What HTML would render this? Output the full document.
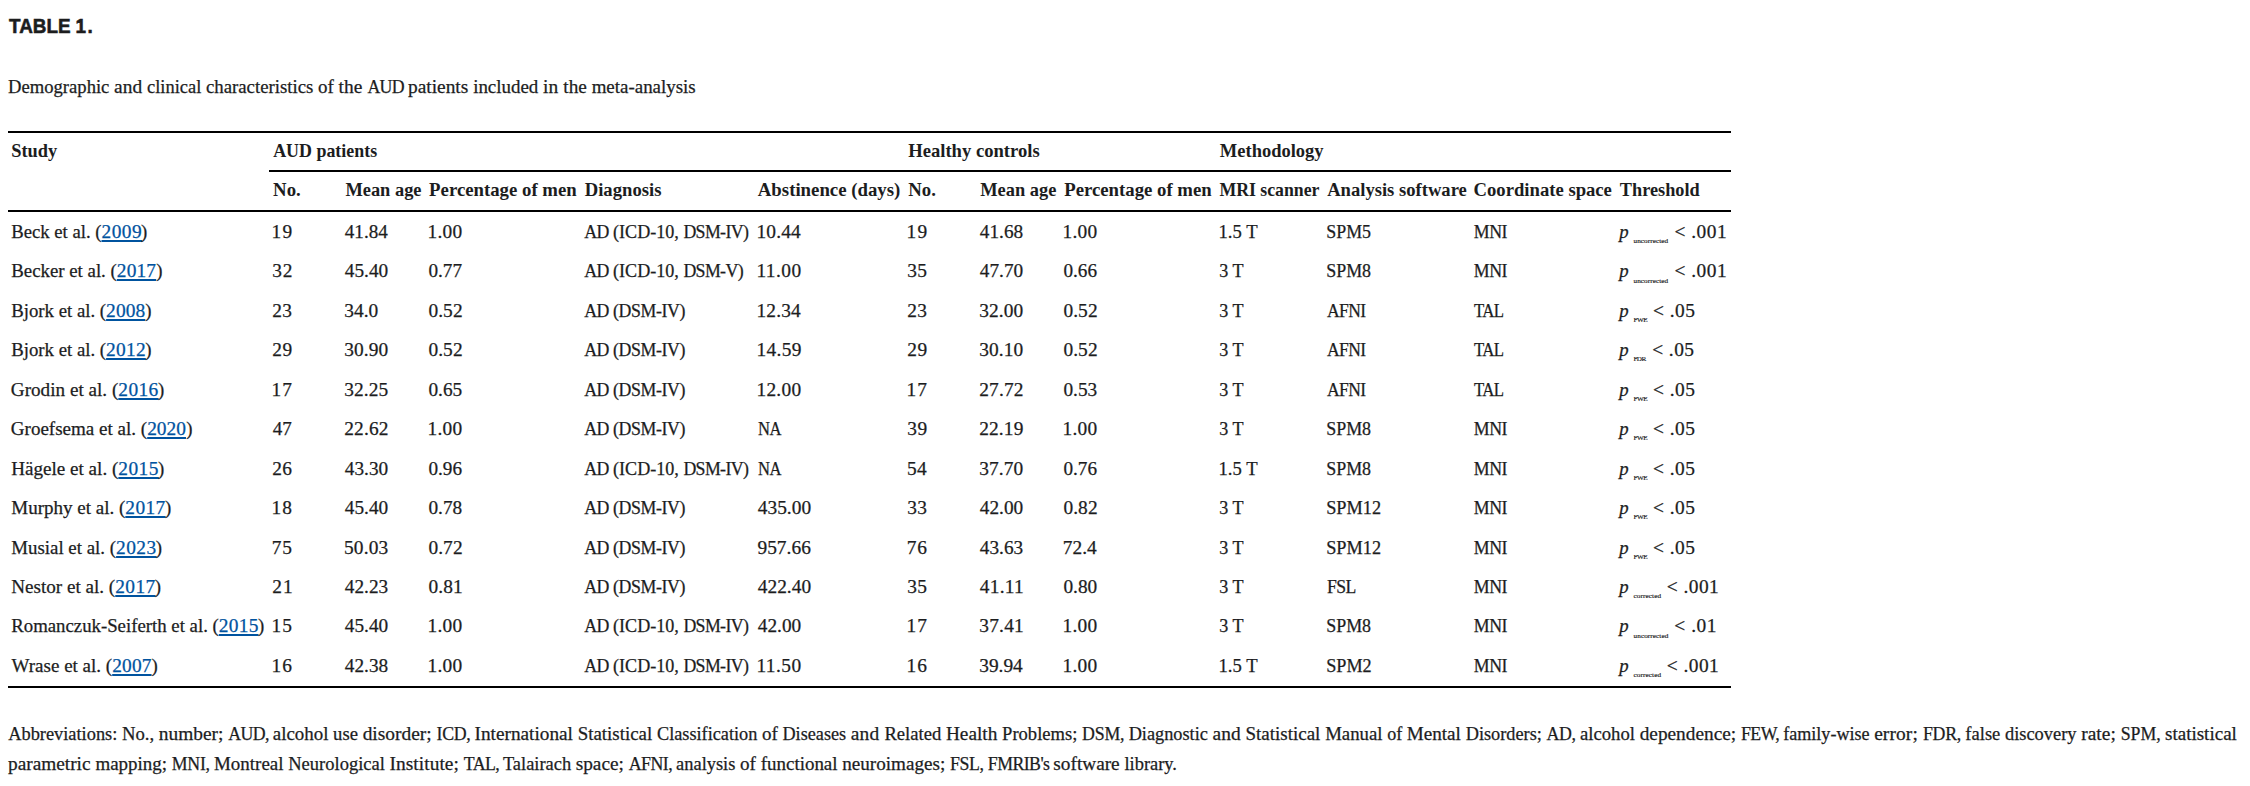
<!DOCTYPE html>
<html lang="en">
<head>
<meta charset="utf-8">
<title>TABLE 1.</title>
<style>
html,body{margin:0;padding:0;background:#fff;}
body{width:2250px;height:786px;position:relative;overflow:hidden;color:#1c1d1e;
 font-family:"Liberation Serif","DejaVu Serif",serif;font-size:18.5px;}
.t{position:absolute;white-space:nowrap;line-height:20px;height:20px;transform-origin:0 0;-webkit-text-stroke:0.25px currentColor;}
.l span,.l a{line-height:0;}
.s{-webkit-text-stroke:0.18px currentColor;}
.b{font-weight:bold;-webkit-text-stroke:0;}
.i{font-style:italic;}
.ttl{font-family:"Liberation Sans","DejaVu Sans",sans-serif;font-weight:bold;-webkit-text-stroke:0.6px currentColor;}
.ln{position:absolute;background:#000;height:2px;}
a{color:#00539f;text-decoration:underline;text-decoration-thickness:2px;text-underline-offset:2px;text-decoration-skip-ink:none;}
</style>
</head>
<body>
<div class="ln" style="left:8px;top:131px;width:1723px"></div>
<div class="ln" style="left:269px;top:170px;width:1462px"></div>
<div class="ln" style="left:8px;top:210px;width:1723px"></div>
<div class="ln" style="left:8px;top:686px;width:1723px"></div>
<div class="t ttl" id="ttl" style="left:8.71px;top:15.60px;font-size:21.0px;word-spacing:-0.30px;transform:scaleX(0.8985);">TABLE <span style="letter-spacing:1.7px">1</span>.</div>
<div class="t l" id="cap" style="left:8.03px;top:77.10px;"><span style="font-size:18.64px;">Demographic </span><span style="font-size:19.40px;letter-spacing:0.035px;">and </span><span style="font-size:18.45px;">clinical </span><span style="font-size:18.80px;">characteristics </span><span style="font-size:18.98px;">of </span><span style="font-size:19.40px;letter-spacing:0.062px;">the </span><span style="font-size:17.80px;letter-spacing:-0.600px;">AUD </span><span style="font-size:19.40px;">patients </span><span style="font-size:18.93px;">included </span><span style="font-size:19.40px;letter-spacing:0.111px;">in </span><span style="font-size:19.25px;">the </span><span style="font-size:18.94px;">meta-analysis</span></div>
<div class="t b" id="h1_0" style="left:11.18px;top:140.90px;font-size:18.40px;">Study</div>
<div class="t b" id="h1_1" style="left:273.20px;top:140.90px;font-size:17.92px;">AUD patients</div>
<div class="t b" id="h1_2" style="left:908.21px;top:140.90px;font-size:18.62px;">Healthy controls</div>
<div class="t b" id="h1_3" style="left:1219.82px;top:140.90px;font-size:18.50px;">Methodology</div>
<div class="t b" id="h2_0" style="left:273.11px;top:179.90px;font-size:18.77px;">No.</div>
<div class="t b" id="h2_1" style="left:345.42px;top:179.90px;font-size:18.40px;">Mean age</div>
<div class="t b" id="h2_2" style="left:429.11px;top:179.90px;font-size:18.77px;">Percentage of men</div>
<div class="t b" id="h2_3" style="left:584.71px;top:179.90px;font-size:18.66px;">Diagnosis</div>
<div class="t b" id="h2_4" style="left:757.80px;top:179.90px;font-size:18.81px;">Abstinence (days)</div>
<div class="t b" id="h2_5" style="left:908.21px;top:179.90px;font-size:18.77px;">No.</div>
<div class="t b" id="h2_6" style="left:980.22px;top:179.90px;font-size:18.42px;">Mean age</div>
<div class="t b" id="h2_7" style="left:1064.21px;top:179.90px;font-size:18.75px;">Percentage of men</div>
<div class="t b" id="h2_8" style="left:1219.52px;top:179.90px;font-size:17.80px;letter-spacing:-0.034px;">MRI scanner</div>
<div class="t b" id="h2_9" style="left:1327.20px;top:179.90px;font-size:18.60px;">Analysis software</div>
<div class="t b" id="h2_10" style="left:1473.55px;top:179.90px;font-size:18.67px;">Coordinate space</div>
<div class="t b" id="h2_11" style="left:1619.82px;top:179.90px;font-size:18.30px;">Threshold</div>
<div class="t l" id="r0_c0" style="left:11.23px;top:221.90px;"><span style="font-size:18.69px;">Beck et al. (</span><a style="font-size:19.40px;letter-spacing:0.484px;">2009</a><span style="font-size:18.8px;margin-left:-1.11px">)</span></div>
<div class="t" id="r0_c1" style="left:271.45px;top:221.90px;font-size:19.40px;letter-spacing:1.428px;">19</div>
<div class="t" id="r0_c2" style="left:344.81px;top:221.90px;font-size:19.10px;">41.84</div>
<div class="t" id="r0_c3" style="left:427.45px;top:221.90px;font-size:19.40px;letter-spacing:0.278px;">1.00</div>
<div class="t l" id="r0_c4" style="left:584.20px;top:221.90px;"><span style="font-size:17.80px;letter-spacing:-0.434px;">AD </span><span style="font-size:18.10px;">(ICD-10, </span><span style="font-size:17.80px;letter-spacing:-0.599px;">DSM-IV)</span></div>
<div class="t" id="r0_c5" style="left:756.45px;top:221.90px;font-size:19.40px;letter-spacing:0.174px;">10.44</div>
<div class="t" id="r0_c6" style="left:906.45px;top:221.90px;font-size:19.40px;letter-spacing:1.428px;">19</div>
<div class="t" id="r0_c7" style="left:979.81px;top:221.90px;font-size:19.28px;">41.68</div>
<div class="t" id="r0_c8" style="left:1062.45px;top:221.90px;font-size:19.40px;letter-spacing:0.278px;">1.00</div>
<div class="t" id="r0_c9" style="left:1218.51px;top:221.90px;font-size:18.66px;">1.5 T</div>
<div class="t" id="r0_c10" style="left:1326.23px;top:221.90px;font-size:17.91px;">SPM5</div>
<div class="t" id="r0_c11" style="left:1473.84px;top:221.90px;font-size:17.80px;letter-spacing:-0.433px;">MNI</div>
<div class="t i" id="r0_p" style="left:1619.13px;top:221.90px;font-size:18.80px;">p</div>
<div class="t s" id="r0_sub" style="left:1633.53px;top:232.10px;font-size:7.20px;letter-spacing:0.077px;transform:scale(1.0000,0.900);">uncorrected</div>
<div class="t" id="r0_rest" style="left:1674.52px;top:221.90px;font-size:19.40px;letter-spacing:0.480px;">&lt; .001</div>
<div class="t l" id="r1_c0" style="left:11.22px;top:261.35px;"><span style="font-size:18.83px;">Becker et al. (</span><a style="font-size:19.40px;letter-spacing:0.155px;">2017</a><span style="font-size:18.8px;margin-left:0.11px">)</span></div>
<div class="t" id="r1_c1" style="left:272.22px;top:261.35px;font-size:19.40px;letter-spacing:0.846px;">32</div>
<div class="t" id="r1_c2" style="left:344.81px;top:261.35px;font-size:19.28px;">45.40</div>
<div class="t" id="r1_c3" style="left:428.42px;top:261.35px;font-size:19.21px;">0.77</div>
<div class="t l" id="r1_c4" style="left:584.20px;top:261.35px;"><span style="font-size:17.80px;letter-spacing:-0.434px;">AD </span><span style="font-size:18.10px;">(ICD-10, </span><span style="font-size:17.80px;letter-spacing:-0.600px;">DSM-V)</span></div>
<div class="t" id="r1_c5" style="left:756.45px;top:261.35px;font-size:19.40px;letter-spacing:0.451px;">11.00</div>
<div class="t" id="r1_c6" style="left:907.22px;top:261.35px;font-size:19.40px;letter-spacing:0.458px;">35</div>
<div class="t" id="r1_c7" style="left:979.81px;top:261.35px;font-size:19.28px;">47.70</div>
<div class="t" id="r1_c8" style="left:1063.42px;top:261.35px;font-size:19.21px;">0.66</div>
<div class="t" id="r1_c9" style="left:1219.28px;top:261.35px;font-size:18.09px;">3 T</div>
<div class="t" id="r1_c10" style="left:1326.22px;top:261.35px;font-size:17.96px;">SPM8</div>
<div class="t" id="r1_c11" style="left:1473.84px;top:261.35px;font-size:17.80px;letter-spacing:-0.433px;">MNI</div>
<div class="t i" id="r1_p" style="left:1619.13px;top:261.35px;font-size:18.80px;">p</div>
<div class="t s" id="r1_sub" style="left:1633.53px;top:271.55px;font-size:7.20px;letter-spacing:0.077px;transform:scale(1.0000,0.900);">uncorrected</div>
<div class="t" id="r1_rest" style="left:1674.52px;top:261.35px;font-size:19.40px;letter-spacing:0.480px;">&lt; .001</div>
<div class="t l" id="r2_c0" style="left:11.22px;top:300.80px;"><span style="font-size:18.78px;">Bjork et al. (</span><a style="font-size:19.40px;letter-spacing:0.119px;">2008</a><span style="font-size:18.8px;margin-left:-0.05px">)</span></div>
<div class="t" id="r2_c1" style="left:272.22px;top:300.80px;font-size:19.40px;letter-spacing:0.458px;">23</div>
<div class="t" id="r2_c2" style="left:344.22px;top:300.80px;font-size:19.40px;letter-spacing:0.019px;">34.0</div>
<div class="t" id="r2_c3" style="left:428.42px;top:300.80px;font-size:19.40px;letter-spacing:0.084px;">0.52</div>
<div class="t l" id="r2_c4" style="left:584.20px;top:300.80px;"><span style="font-size:17.80px;letter-spacing:-0.434px;">AD </span><span style="font-size:17.80px;letter-spacing:-0.395px;">(DSM-IV)</span></div>
<div class="t" id="r2_c5" style="left:756.45px;top:300.80px;font-size:19.40px;letter-spacing:0.174px;">12.34</div>
<div class="t" id="r2_c6" style="left:907.22px;top:300.80px;font-size:19.40px;letter-spacing:0.458px;">23</div>
<div class="t" id="r2_c7" style="left:979.22px;top:300.80px;font-size:19.40px;letter-spacing:0.077px;">32.00</div>
<div class="t" id="r2_c8" style="left:1063.42px;top:300.80px;font-size:19.40px;letter-spacing:0.084px;">0.52</div>
<div class="t" id="r2_c9" style="left:1219.28px;top:300.80px;font-size:18.09px;">3 T</div>
<div class="t" id="r2_c10" style="left:1327.30px;top:300.80px;font-size:17.80px;letter-spacing:-0.600px;transform:scaleX(0.9834);">AFNI</div>
<div class="t" id="r2_c11" style="left:1474.03px;top:300.80px;font-size:17.80px;letter-spacing:-0.600px;transform:scaleX(0.9420);">TAL</div>
<div class="t i" id="r2_p" style="left:1619.13px;top:300.80px;font-size:18.80px;">p</div>
<div class="t s" id="r2_sub" style="left:1633.46px;top:311.00px;font-size:7.20px;letter-spacing:-0.480px;transform:scale(1.0000,0.900);">FWE</div>
<div class="t" id="r2_rest" style="left:1653.12px;top:300.80px;font-size:19.40px;letter-spacing:0.454px;">&lt; .05</div>
<div class="t l" id="r3_c0" style="left:11.22px;top:340.25px;"><span style="font-size:18.78px;">Bjork et al. (</span><a style="font-size:19.40px;letter-spacing:0.249px;">2012</a><span style="font-size:18.8px;margin-left:-0.57px">)</span></div>
<div class="t" id="r3_c1" style="left:272.22px;top:340.25px;font-size:19.40px;letter-spacing:0.652px;">29</div>
<div class="t" id="r3_c2" style="left:344.22px;top:340.25px;font-size:19.40px;letter-spacing:0.077px;">30.90</div>
<div class="t" id="r3_c3" style="left:428.42px;top:340.25px;font-size:19.40px;letter-spacing:0.084px;">0.52</div>
<div class="t l" id="r3_c4" style="left:584.20px;top:340.25px;"><span style="font-size:17.80px;letter-spacing:-0.434px;">AD </span><span style="font-size:17.80px;letter-spacing:-0.395px;">(DSM-IV)</span></div>
<div class="t" id="r3_c5" style="left:756.45px;top:340.25px;font-size:19.40px;letter-spacing:0.320px;">14.59</div>
<div class="t" id="r3_c6" style="left:907.22px;top:340.25px;font-size:19.40px;letter-spacing:0.652px;">29</div>
<div class="t" id="r3_c7" style="left:979.22px;top:340.25px;font-size:19.40px;letter-spacing:0.077px;">30.10</div>
<div class="t" id="r3_c8" style="left:1063.42px;top:340.25px;font-size:19.40px;letter-spacing:0.084px;">0.52</div>
<div class="t" id="r3_c9" style="left:1219.28px;top:340.25px;font-size:18.09px;">3 T</div>
<div class="t" id="r3_c10" style="left:1327.30px;top:340.25px;font-size:17.80px;letter-spacing:-0.600px;transform:scaleX(0.9834);">AFNI</div>
<div class="t" id="r3_c11" style="left:1474.03px;top:340.25px;font-size:17.80px;letter-spacing:-0.600px;transform:scaleX(0.9420);">TAL</div>
<div class="t i" id="r3_p" style="left:1619.13px;top:340.25px;font-size:18.80px;">p</div>
<div class="t s" id="r3_sub" style="left:1633.46px;top:350.45px;font-size:7.20px;letter-spacing:-0.592px;transform:scale(1.0000,0.900);">FDR</div>
<div class="t" id="r3_rest" style="left:1652.22px;top:340.25px;font-size:19.40px;letter-spacing:0.429px;">&lt; .05</div>
<div class="t l" id="r4_c0" style="left:10.83px;top:379.70px;"><span style="font-size:19.16px;">Grodin et al. (</span><a style="font-size:19.40px;letter-spacing:0.388px;">2016</a><span style="font-size:18.8px;margin-left:-0.73px">)</span></div>
<div class="t" id="r4_c1" style="left:271.45px;top:379.70px;font-size:19.40px;letter-spacing:1.040px;">17</div>
<div class="t" id="r4_c2" style="left:344.22px;top:379.70px;font-size:19.40px;letter-spacing:0.077px;">32.25</div>
<div class="t" id="r4_c3" style="left:428.42px;top:379.70px;font-size:19.32px;">0.65</div>
<div class="t l" id="r4_c4" style="left:584.20px;top:379.70px;"><span style="font-size:17.80px;letter-spacing:-0.434px;">AD </span><span style="font-size:17.80px;letter-spacing:-0.395px;">(DSM-IV)</span></div>
<div class="t" id="r4_c5" style="left:756.45px;top:379.70px;font-size:19.40px;letter-spacing:0.271px;">12.00</div>
<div class="t" id="r4_c6" style="left:906.45px;top:379.70px;font-size:19.40px;letter-spacing:1.040px;">17</div>
<div class="t" id="r4_c7" style="left:979.22px;top:379.70px;font-size:19.40px;letter-spacing:0.174px;">27.72</div>
<div class="t" id="r4_c8" style="left:1063.42px;top:379.70px;font-size:19.32px;">0.53</div>
<div class="t" id="r4_c9" style="left:1219.28px;top:379.70px;font-size:18.09px;">3 T</div>
<div class="t" id="r4_c10" style="left:1327.30px;top:379.70px;font-size:17.80px;letter-spacing:-0.600px;transform:scaleX(0.9834);">AFNI</div>
<div class="t" id="r4_c11" style="left:1474.03px;top:379.70px;font-size:17.80px;letter-spacing:-0.600px;transform:scaleX(0.9420);">TAL</div>
<div class="t i" id="r4_p" style="left:1619.13px;top:379.70px;font-size:18.80px;">p</div>
<div class="t s" id="r4_sub" style="left:1633.46px;top:389.90px;font-size:7.20px;letter-spacing:-0.480px;transform:scale(1.0000,0.900);">FWE</div>
<div class="t" id="r4_rest" style="left:1653.12px;top:379.70px;font-size:19.40px;letter-spacing:0.454px;">&lt; .05</div>
<div class="t l" id="r5_c0" style="left:10.84px;top:419.15px;"><span style="font-size:19.05px;">Groefsema et al. (</span><a style="font-size:19.40px;letter-spacing:0.019px;">2020</a><span style="font-size:18.8px;margin-left:0.15px">)</span></div>
<div class="t" id="r5_c1" style="left:272.81px;top:419.15px;font-size:19.07px;">47</div>
<div class="t" id="r5_c2" style="left:344.22px;top:419.15px;font-size:19.40px;letter-spacing:0.174px;">22.62</div>
<div class="t" id="r5_c3" style="left:427.45px;top:419.15px;font-size:19.40px;letter-spacing:0.278px;">1.00</div>
<div class="t l" id="r5_c4" style="left:584.20px;top:419.15px;"><span style="font-size:17.80px;letter-spacing:-0.434px;">AD </span><span style="font-size:17.80px;letter-spacing:-0.395px;">(DSM-IV)</span></div>
<div class="t" id="r5_c5" style="left:757.67px;top:419.15px;font-size:17.80px;letter-spacing:-0.600px;transform:scaleX(0.9306);">NA</div>
<div class="t" id="r5_c6" style="left:907.22px;top:419.15px;font-size:19.40px;letter-spacing:0.652px;">39</div>
<div class="t" id="r5_c7" style="left:979.22px;top:419.15px;font-size:19.40px;letter-spacing:0.126px;">22.19</div>
<div class="t" id="r5_c8" style="left:1062.45px;top:419.15px;font-size:19.40px;letter-spacing:0.278px;">1.00</div>
<div class="t" id="r5_c9" style="left:1219.28px;top:419.15px;font-size:18.09px;">3 T</div>
<div class="t" id="r5_c10" style="left:1326.22px;top:419.15px;font-size:17.96px;">SPM8</div>
<div class="t" id="r5_c11" style="left:1473.84px;top:419.15px;font-size:17.80px;letter-spacing:-0.433px;">MNI</div>
<div class="t i" id="r5_p" style="left:1619.13px;top:419.15px;font-size:18.80px;">p</div>
<div class="t s" id="r5_sub" style="left:1633.46px;top:429.35px;font-size:7.20px;letter-spacing:-0.480px;transform:scale(1.0000,0.900);">FWE</div>
<div class="t" id="r5_rest" style="left:1653.12px;top:419.15px;font-size:19.40px;letter-spacing:0.454px;">&lt; .05</div>
<div class="t l" id="r6_c0" style="left:11.22px;top:458.60px;"><span style="font-size:19.10px;">Hägele et al. (</span><a style="font-size:19.40px;letter-spacing:0.453px;">2015</a><span style="font-size:18.8px;margin-left:-0.99px">)</span></div>
<div class="t" id="r6_c1" style="left:272.22px;top:458.60px;font-size:19.40px;letter-spacing:0.264px;">26</div>
<div class="t" id="r6_c2" style="left:344.81px;top:458.60px;font-size:19.28px;">43.30</div>
<div class="t" id="r6_c3" style="left:428.42px;top:458.60px;font-size:19.21px;">0.96</div>
<div class="t l" id="r6_c4" style="left:584.20px;top:458.60px;"><span style="font-size:17.80px;letter-spacing:-0.434px;">AD </span><span style="font-size:18.10px;">(ICD-10, </span><span style="font-size:17.80px;letter-spacing:-0.599px;">DSM-IV)</span></div>
<div class="t" id="r6_c5" style="left:757.67px;top:458.60px;font-size:17.80px;letter-spacing:-0.600px;transform:scaleX(0.9306);">NA</div>
<div class="t" id="r6_c6" style="left:907.03px;top:458.60px;font-size:19.40px;letter-spacing:0.264px;">54</div>
<div class="t" id="r6_c7" style="left:979.22px;top:458.60px;font-size:19.40px;letter-spacing:0.077px;">37.70</div>
<div class="t" id="r6_c8" style="left:1063.42px;top:458.60px;font-size:19.21px;">0.76</div>
<div class="t" id="r6_c9" style="left:1218.51px;top:458.60px;font-size:18.66px;">1.5 T</div>
<div class="t" id="r6_c10" style="left:1326.22px;top:458.60px;font-size:17.96px;">SPM8</div>
<div class="t" id="r6_c11" style="left:1473.84px;top:458.60px;font-size:17.80px;letter-spacing:-0.433px;">MNI</div>
<div class="t i" id="r6_p" style="left:1619.13px;top:458.60px;font-size:18.80px;">p</div>
<div class="t s" id="r6_sub" style="left:1633.46px;top:468.80px;font-size:7.20px;letter-spacing:-0.480px;transform:scale(1.0000,0.900);">FWE</div>
<div class="t" id="r6_rest" style="left:1653.12px;top:458.60px;font-size:19.40px;letter-spacing:0.454px;">&lt; .05</div>
<div class="t l" id="r7_c0" style="left:11.22px;top:498.05px;"><span style="font-size:19.02px;">Murphy et al. (</span><a style="font-size:19.40px;letter-spacing:0.388px;">2017</a><span style="font-size:18.8px;margin-left:-0.73px">)</span></div>
<div class="t" id="r7_c1" style="left:271.45px;top:498.05px;font-size:19.40px;letter-spacing:1.234px;">18</div>
<div class="t" id="r7_c2" style="left:344.81px;top:498.05px;font-size:19.28px;">45.40</div>
<div class="t" id="r7_c3" style="left:428.42px;top:498.05px;font-size:19.32px;">0.78</div>
<div class="t l" id="r7_c4" style="left:584.20px;top:498.05px;"><span style="font-size:17.80px;letter-spacing:-0.434px;">AD </span><span style="font-size:17.80px;letter-spacing:-0.395px;">(DSM-IV)</span></div>
<div class="t" id="r7_c5" style="left:757.81px;top:498.05px;font-size:19.39px;">435.00</div>
<div class="t" id="r7_c6" style="left:907.22px;top:498.05px;font-size:19.40px;letter-spacing:0.458px;">33</div>
<div class="t" id="r7_c7" style="left:979.81px;top:498.05px;font-size:19.28px;">42.00</div>
<div class="t" id="r7_c8" style="left:1063.42px;top:498.05px;font-size:19.40px;letter-spacing:0.084px;">0.82</div>
<div class="t" id="r7_c9" style="left:1219.28px;top:498.05px;font-size:18.09px;">3 T</div>
<div class="t" id="r7_c10" style="left:1326.20px;top:498.05px;font-size:18.30px;">SPM12</div>
<div class="t" id="r7_c11" style="left:1473.84px;top:498.05px;font-size:17.80px;letter-spacing:-0.433px;">MNI</div>
<div class="t i" id="r7_p" style="left:1619.13px;top:498.05px;font-size:18.80px;">p</div>
<div class="t s" id="r7_sub" style="left:1633.46px;top:508.25px;font-size:7.20px;letter-spacing:-0.480px;transform:scale(1.0000,0.900);">FWE</div>
<div class="t" id="r7_rest" style="left:1653.12px;top:498.05px;font-size:19.40px;letter-spacing:0.454px;">&lt; .05</div>
<div class="t l" id="r8_c0" style="left:11.22px;top:537.50px;"><span style="font-size:18.89px;">Musial et al. (</span><a style="font-size:19.40px;letter-spacing:0.453px;">2023</a><span style="font-size:18.8px;margin-left:-0.99px">)</span></div>
<div class="t" id="r8_c1" style="left:271.84px;top:537.50px;font-size:19.40px;letter-spacing:0.846px;">75</div>
<div class="t" id="r8_c2" style="left:344.03px;top:537.50px;font-size:19.40px;letter-spacing:0.126px;">50.03</div>
<div class="t" id="r8_c3" style="left:428.42px;top:537.50px;font-size:19.40px;letter-spacing:0.084px;">0.72</div>
<div class="t l" id="r8_c4" style="left:584.20px;top:537.50px;"><span style="font-size:17.80px;letter-spacing:-0.434px;">AD </span><span style="font-size:17.80px;letter-spacing:-0.395px;">(DSM-IV)</span></div>
<div class="t" id="r8_c5" style="left:757.42px;top:537.50px;font-size:19.40px;letter-spacing:0.034px;">957.66</div>
<div class="t" id="r8_c6" style="left:906.84px;top:537.50px;font-size:19.40px;letter-spacing:0.652px;">76</div>
<div class="t" id="r8_c7" style="left:979.81px;top:537.50px;font-size:19.28px;">43.63</div>
<div class="t" id="r8_c8" style="left:1062.84px;top:537.50px;font-size:19.40px;letter-spacing:0.019px;">72.4</div>
<div class="t" id="r8_c9" style="left:1219.28px;top:537.50px;font-size:18.09px;">3 T</div>
<div class="t" id="r8_c10" style="left:1326.20px;top:537.50px;font-size:18.30px;">SPM12</div>
<div class="t" id="r8_c11" style="left:1473.84px;top:537.50px;font-size:17.80px;letter-spacing:-0.433px;">MNI</div>
<div class="t i" id="r8_p" style="left:1619.13px;top:537.50px;font-size:18.80px;">p</div>
<div class="t s" id="r8_sub" style="left:1633.46px;top:547.70px;font-size:7.20px;letter-spacing:-0.480px;transform:scale(1.0000,0.900);">FWE</div>
<div class="t" id="r8_rest" style="left:1653.12px;top:537.50px;font-size:19.40px;letter-spacing:0.454px;">&lt; .05</div>
<div class="t l" id="r9_c0" style="left:11.22px;top:576.95px;"><span style="font-size:19.11px;">Nestor et al. (</span><a style="font-size:19.40px;letter-spacing:0.388px;">2017</a><span style="font-size:18.8px;margin-left:-0.73px">)</span></div>
<div class="t" id="r9_c1" style="left:272.22px;top:576.95px;font-size:19.40px;letter-spacing:1.040px;">21</div>
<div class="t" id="r9_c2" style="left:344.81px;top:576.95px;font-size:19.28px;">42.23</div>
<div class="t" id="r9_c3" style="left:428.42px;top:576.95px;font-size:19.40px;letter-spacing:0.149px;">0.81</div>
<div class="t l" id="r9_c4" style="left:584.20px;top:576.95px;"><span style="font-size:17.80px;letter-spacing:-0.434px;">AD </span><span style="font-size:17.80px;letter-spacing:-0.395px;">(DSM-IV)</span></div>
<div class="t" id="r9_c5" style="left:757.81px;top:576.95px;font-size:19.39px;">422.40</div>
<div class="t" id="r9_c6" style="left:907.22px;top:576.95px;font-size:19.40px;letter-spacing:0.458px;">35</div>
<div class="t" id="r9_c7" style="left:979.81px;top:576.95px;font-size:19.40px;letter-spacing:0.257px;">41.11</div>
<div class="t" id="r9_c8" style="left:1063.42px;top:576.95px;font-size:19.32px;">0.80</div>
<div class="t" id="r9_c9" style="left:1219.28px;top:576.95px;font-size:18.09px;">3 T</div>
<div class="t" id="r9_c10" style="left:1326.95px;top:576.95px;font-size:17.80px;letter-spacing:-0.600px;transform:scaleX(0.9925);">FSL</div>
<div class="t" id="r9_c11" style="left:1473.84px;top:576.95px;font-size:17.80px;letter-spacing:-0.433px;">MNI</div>
<div class="t i" id="r9_p" style="left:1619.13px;top:576.95px;font-size:18.80px;">p</div>
<div class="t s" id="r9_sub" style="left:1633.38px;top:587.15px;font-size:7.20px;letter-spacing:0.126px;transform:scale(1.0000,0.900);">corrected</div>
<div class="t" id="r9_rest" style="left:1666.72px;top:576.95px;font-size:19.40px;letter-spacing:0.460px;">&lt; .001</div>
<div class="t l" id="r10_c0" style="left:11.22px;top:616.40px;"><span style="font-size:18.80px;">Romanczuk-Seiferth et al. (</span><a style="font-size:19.40px;letter-spacing:0.253px;">2015</a><span style="font-size:18.8px;margin-left:-0.49px">)</span></div>
<div class="t" id="r10_c1" style="left:271.45px;top:616.40px;font-size:19.40px;letter-spacing:1.234px;">15</div>
<div class="t" id="r10_c2" style="left:344.81px;top:616.40px;font-size:19.28px;">45.40</div>
<div class="t" id="r10_c3" style="left:427.45px;top:616.40px;font-size:19.40px;letter-spacing:0.278px;">1.00</div>
<div class="t l" id="r10_c4" style="left:584.20px;top:616.40px;"><span style="font-size:17.80px;letter-spacing:-0.434px;">AD </span><span style="font-size:18.10px;">(ICD-10, </span><span style="font-size:17.80px;letter-spacing:-0.599px;">DSM-IV)</span></div>
<div class="t" id="r10_c5" style="left:757.81px;top:616.40px;font-size:19.28px;">42.00</div>
<div class="t" id="r10_c6" style="left:906.45px;top:616.40px;font-size:19.40px;letter-spacing:1.040px;">17</div>
<div class="t" id="r10_c7" style="left:979.22px;top:616.40px;font-size:19.40px;letter-spacing:0.223px;">37.41</div>
<div class="t" id="r10_c8" style="left:1062.45px;top:616.40px;font-size:19.40px;letter-spacing:0.278px;">1.00</div>
<div class="t" id="r10_c9" style="left:1219.28px;top:616.40px;font-size:18.09px;">3 T</div>
<div class="t" id="r10_c10" style="left:1326.22px;top:616.40px;font-size:17.96px;">SPM8</div>
<div class="t" id="r10_c11" style="left:1473.84px;top:616.40px;font-size:17.80px;letter-spacing:-0.433px;">MNI</div>
<div class="t i" id="r10_p" style="left:1619.13px;top:616.40px;font-size:18.80px;">p</div>
<div class="t s" id="r10_sub" style="left:1633.53px;top:626.60px;font-size:7.20px;letter-spacing:0.087px;transform:scale(1.0000,0.900);">uncorrected</div>
<div class="t" id="r10_rest" style="left:1674.32px;top:616.40px;font-size:19.40px;letter-spacing:0.525px;">&lt; .01</div>
<div class="t l" id="r11_c0" style="left:11.60px;top:655.85px;"><span style="font-size:19.02px;">Wrase et al. (</span><a style="font-size:19.40px;letter-spacing:0.155px;">2007</a><span style="font-size:18.8px;margin-left:-0.09px">)</span></div>
<div class="t" id="r11_c1" style="left:271.45px;top:655.85px;font-size:19.40px;letter-spacing:1.040px;">16</div>
<div class="t" id="r11_c2" style="left:344.81px;top:655.85px;font-size:19.28px;">42.38</div>
<div class="t" id="r11_c3" style="left:427.45px;top:655.85px;font-size:19.40px;letter-spacing:0.278px;">1.00</div>
<div class="t l" id="r11_c4" style="left:584.20px;top:655.85px;"><span style="font-size:17.80px;letter-spacing:-0.434px;">AD </span><span style="font-size:18.10px;">(ICD-10, </span><span style="font-size:17.80px;letter-spacing:-0.599px;">DSM-IV)</span></div>
<div class="t" id="r11_c5" style="left:756.45px;top:655.85px;font-size:19.40px;letter-spacing:0.451px;">11.50</div>
<div class="t" id="r11_c6" style="left:906.45px;top:655.85px;font-size:19.40px;letter-spacing:1.040px;">16</div>
<div class="t" id="r11_c7" style="left:979.23px;top:655.85px;font-size:19.36px;">39.94</div>
<div class="t" id="r11_c8" style="left:1062.45px;top:655.85px;font-size:19.40px;letter-spacing:0.278px;">1.00</div>
<div class="t" id="r11_c9" style="left:1218.51px;top:655.85px;font-size:18.66px;">1.5 T</div>
<div class="t" id="r11_c10" style="left:1326.21px;top:655.85px;font-size:18.19px;">SPM2</div>
<div class="t" id="r11_c11" style="left:1473.84px;top:655.85px;font-size:17.80px;letter-spacing:-0.433px;">MNI</div>
<div class="t i" id="r11_p" style="left:1619.13px;top:655.85px;font-size:18.80px;">p</div>
<div class="t s" id="r11_sub" style="left:1633.38px;top:666.05px;font-size:7.20px;letter-spacing:0.126px;transform:scale(1.0000,0.900);">corrected</div>
<div class="t" id="r11_rest" style="left:1666.72px;top:655.85px;font-size:19.40px;letter-spacing:0.460px;">&lt; .001</div>
<div class="t l" id="ab1" style="left:8.20px;top:723.60px;"><span style="font-size:18.38px;">Abbreviations: </span><span style="font-size:18.71px;">No., </span><span style="font-size:19.40px;letter-spacing:0.009px;">number; </span><span style="font-size:17.80px;letter-spacing:-0.600px;">AUD, </span><span style="font-size:18.91px;">alcohol </span><span style="font-size:18.65px;">use </span><span style="font-size:19.40px;letter-spacing:0.009px;">disorder; </span><span style="font-size:17.80px;letter-spacing:-0.291px;">ICD, </span><span style="font-size:19.25px;">International </span><span style="font-size:18.90px;">Statistical </span><span style="font-size:18.26px;">Classification </span><span style="font-size:19.01px;">of </span><span style="font-size:18.20px;">Diseases </span><span style="font-size:19.40px;letter-spacing:0.231px;">and </span><span style="font-size:18.61px;">Related </span><span style="font-size:19.28px;">Health </span><span style="font-size:18.56px;">Problems; </span><span style="font-size:17.80px;letter-spacing:-0.156px;">DSM, </span><span style="font-size:18.31px;">Diagnostic </span><span style="font-size:19.40px;letter-spacing:0.045px;">and </span><span style="font-size:18.99px;">Statistical </span><span style="font-size:18.77px;">Manual </span><span style="font-size:18.08px;">of </span><span style="font-size:19.14px;">Mental </span><span style="font-size:18.29px;">Disorders; </span><span style="font-size:17.80px;letter-spacing:-0.267px;">AD, </span><span style="font-size:18.70px;">alcohol </span><span style="font-size:19.32px;">dependence; </span><span style="font-size:17.80px;letter-spacing:-0.525px;">FEW, </span><span style="font-size:18.10px;">family-wise </span><span style="font-size:19.40px;letter-spacing:0.122px;">error; </span><span style="font-size:17.80px;letter-spacing:-0.203px;">FDR, </span><span style="font-size:18.52px;">false </span><span style="font-size:18.41px;">discovery </span><span style="font-size:19.40px;letter-spacing:0.057px;">rate; </span><span style="font-size:17.80px;letter-spacing:-0.051px;">SPM, </span><span style="font-size:19.04px;">statistical</span></div>
<div class="t l" id="ab2" style="left:8.01px;top:753.60px;"><span style="font-size:19.32px;">parametric </span><span style="font-size:18.97px;">mapping; </span><span style="font-size:17.80px;letter-spacing:-0.242px;">MNI, </span><span style="font-size:18.95px;">Montreal </span><span style="font-size:18.52px;">Neurological </span><span style="font-size:19.40px;letter-spacing:0.050px;">Institute; </span><span style="font-size:17.80px;letter-spacing:-0.600px;">TAL, </span><span style="font-size:18.42px;">Talairach </span><span style="font-size:19.30px;">space; </span><span style="font-size:17.80px;letter-spacing:-0.499px;">AFNI, </span><span style="font-size:18.41px;">analysis </span><span style="font-size:19.11px;">of </span><span style="font-size:18.95px;">functional </span><span style="font-size:19.12px;">neuroimages; </span><span style="font-size:17.80px;letter-spacing:-0.354px;">FSL, </span><span style="font-size:17.80px;letter-spacing:-0.544px;">FMRIB's </span><span style="font-size:19.27px;">software </span><span style="font-size:18.41px;">library.</span></div>
</body>
</html>
